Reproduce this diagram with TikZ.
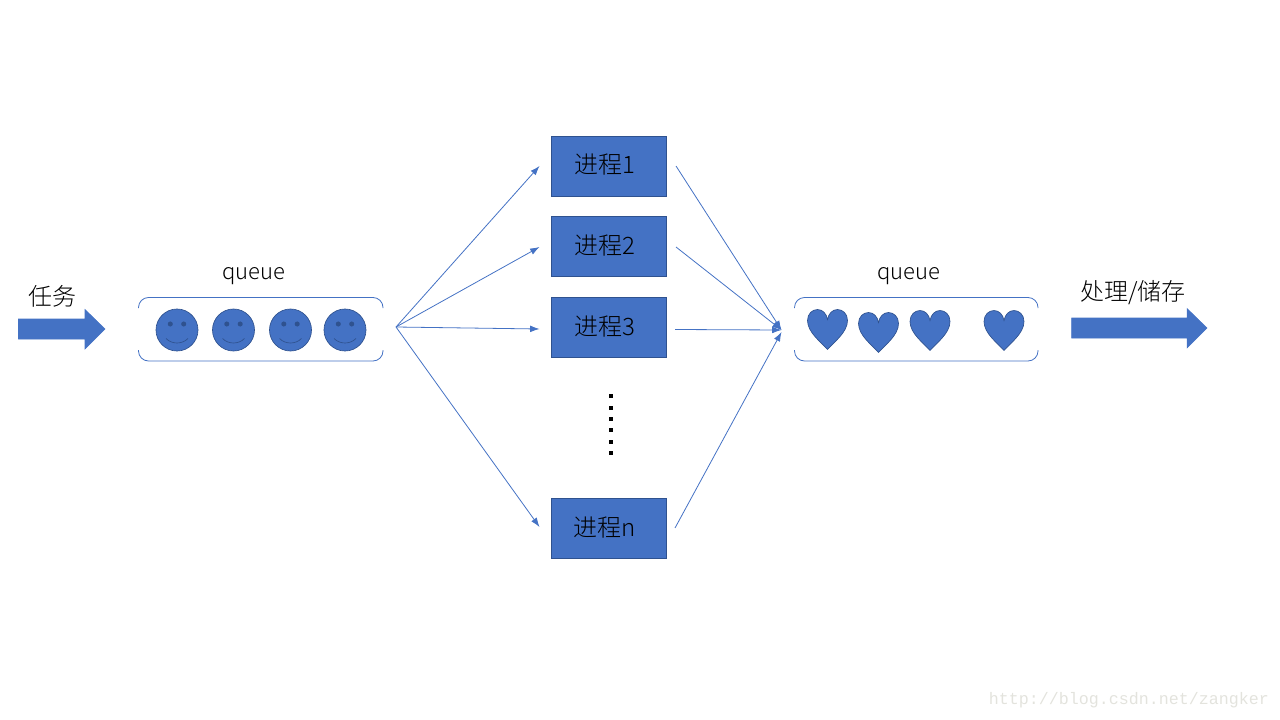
\documentclass[tikz,border=0pt]{standalone}
\usepackage{fontspec}
\setmainfont{Noto Sans CJK SC Light}
\newfontfamily\markfont{Liberation Mono}
\usetikzlibrary{arrows.meta,shapes.geometric}
\definecolor{blue1}{HTML}{4472C4}
\definecolor{blue2}{HTML}{2F528F}
\definecolor{markgrey}{HTML}{E3E3DD}
\tikzset{
  px/.style={x=0.75pt,y=-0.75pt},
  procbox/.style={draw=blue2,fill=blue1,line width=0.6pt,rectangle,inner sep=0pt,minimum width=86.25pt,minimum height=44.5pt},
  txt/.style={inner sep=0pt,font=\fontsize{18}{20}\selectfont,text=black},
  qtxt/.style={inner sep=0pt,font=\fontsize{16.5}{20}\selectfont,text=black},
  conn/.style={draw=blue1,line width=0.6pt,-{Latex[length=7pt,width=5pt]}},
  tray/.style={draw=blue1,line width=0.6pt,rounded corners=7.5pt},
  blockarrow/.style={fill=blue1,draw=blue1,line width=0.4pt},
  dotmark/.style={fill=black,inner sep=0pt,minimum size=3pt,rectangle},
  smiley/.pic={
    \node[circle,draw=blue2,fill=blue1,line width=0.5pt,inner sep=0pt,minimum size=31.5pt] (face) at (0,0) {};
    \fill[blue2] (-6.7,-6) circle[radius=1.9pt];
    \fill[blue2] (6.7,-6) circle[radius=1.9pt];
    \draw[blue2,line width=0.5pt] (-11,8.5) .. controls (-5,14.5) and (5,14.5) .. (11,8.5);
  },
  heart/.pic={
    \draw[fill=blue1,draw=blue2,line width=0.5pt] (0,40)
      .. controls (-6,33) and (-20,23) .. (-20,11)
      .. controls (-20,4) and (-15,0) .. (-10,0)
      .. controls (-5,0) and (-1,4) .. (0,10)
      .. controls (1,4) and (5,0) .. (10,0)
      .. controls (15,0) and (20,4) .. (20,11)
      .. controls (20,23) and (6,33) .. (0,40) -- cycle;
  }
}
\begin{document}
\begin{tikzpicture}[px]
\useasboundingbox (0,0) rectangle (1280,720);
% block arrows
\draw[blockarrow] (18.5,319) -- (85,319) -- (85,309.5) -- (105,329) -- (85,349) -- (85,339) -- (18.5,339) -- cycle;
\draw[blockarrow] (1071.5,318) -- (1187,318) -- (1187,308.5) -- (1207,328) -- (1187,348) -- (1187,338) -- (1071.5,338) -- cycle;
% trays
\draw[tray] (138.5,308) -- (138.5,297.5) -- (383,297.5) -- (383,308);
\draw[tray] (138.5,350) -- (138.5,361) -- (383,361) -- (383,350);
\draw[tray] (794.5,308) -- (794.5,297.5) -- (1038,297.5) -- (1038,308);
\draw[tray] (794.5,350) -- (794.5,361) -- (1038,361) -- (1038,350);
% smileys
\pic (sa) at (177,330) {smiley};
\pic (sb) at (233.5,330) {smiley};
\pic (sc) at (290.5,330) {smiley};
\pic (sd) at (345,330) {smiley};
% hearts
\pic (ha) at (827.5,309.5) {heart};
\pic (hb) at (878.5,312.5) {heart};
\pic (hc) at (930,310.5) {heart};
\pic (hd) at (1004,310.5) {heart};
% process boxes
\node[procbox,minimum height=45pt] (p1) at (608.5,166) {};
\node[procbox] (p2) at (608.5,246.5) {};
\node[procbox] (p3) at (608.5,327.5) {};
\node[procbox] (pn) at (608.5,528.5) {};
\node[txt] (t1) at (605,165) {进程1};
\node[txt] (t2) at (605,246) {进程2};
\node[txt] (t3) at (605,327) {进程3};
\node[txt] (tn) at (605,528) {进程n};
% dots
\foreach \n/\y in {a/396,b/407.5,c/419,d/430,e/441.5,f/453}
  \node[dotmark] (dot\n) at (610.5,\y) {};
% labels
\node[txt] (task) at (52,296) {任务};
\node[txt] (save) at (1133,293) {处理/储存};
\node[qtxt] (q1) at (254,276) {queue};
\node[qtxt] (q2) at (909,276) {queue};
% connector ends
\coordinate (fan) at (396,327);
\coordinate (a1) at (539.5,166);
\coordinate (a2) at (539.5,247);
\coordinate (a3) at (539.5,329);
\coordinate (an) at (539.5,527);
\coordinate (b1) at (676,166);
\coordinate (b2) at (676,247);
\coordinate (b3) at (675,329.5);
\coordinate (bn) at (675,528);
\coordinate (join) at (781.5,330);
\coordinate (joinb) at (781.5,332);
\draw[conn] (fan) -- (a1);
\draw[conn] (fan) -- (a2);
\draw[conn] (fan) -- (a3);
\draw[conn] (fan) -- (an);
\draw[conn] (b1) -- (join);
\draw[conn] (b2) -- (join);
\draw[conn] (b3) -- (join);
\draw[conn] (bn) -- (joinb);
% watermark
\node[inner sep=0pt,text=markgrey,font=\markfont\fontsize{12.5}{15}\selectfont] (mark) at (1129,700) {http://blog.csdn.net/zangker};
\end{tikzpicture}
\end{document}
